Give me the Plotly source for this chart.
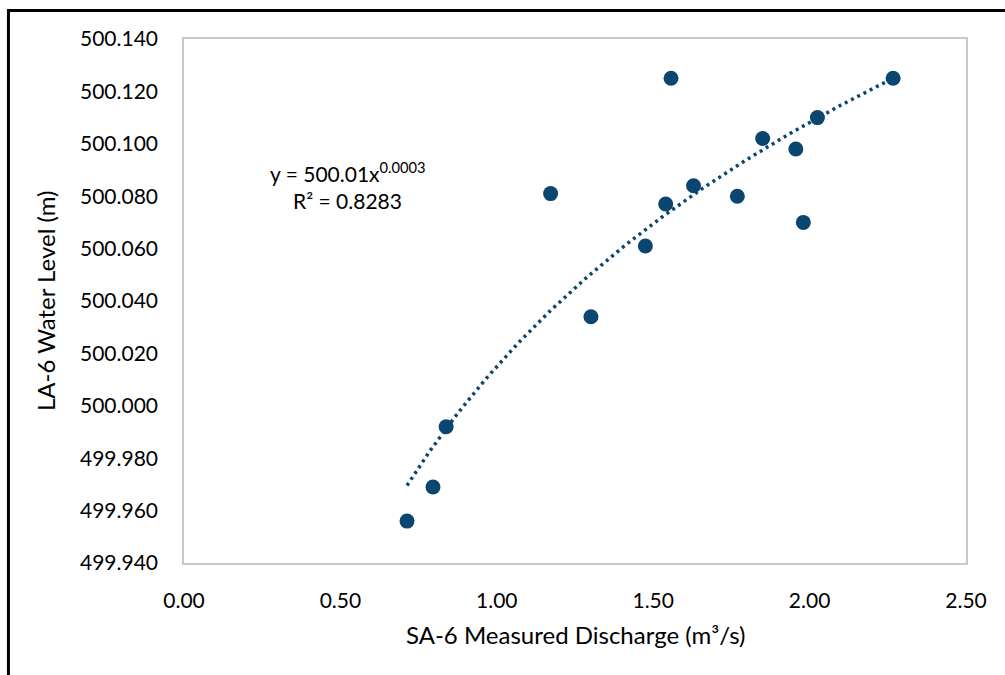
import numpy as np
import plotly.graph_objects as go

# SA-6 measured discharge (m3/s) and LA-6 water level (m)
discharge = [0.713, 0.796, 0.838, 1.172, 1.301, 1.475, 1.540, 1.557,
             1.629, 1.769, 1.850, 1.956, 1.980, 2.025, 2.267]
water_level = [499.956, 499.969, 499.992, 500.081, 500.034, 500.061, 500.077, 500.125,
               500.084, 500.080, 500.102, 500.098, 500.070, 500.110, 500.125]

x_ticks = [0.0, 0.5, 1.0, 1.5, 2.0, 2.5]
y_ticks = [499.94, 499.96, 499.98, 500.00, 500.02, 500.04, 500.06,
           500.08, 500.10, 500.12, 500.14]

equation_text = "y = 500.01x<sup>0.0003</sup>"
r2_text = "R² = 0.8283"

MARKER = "#0A4670"
FONT = "Lato"

# power-law trendline y = a * x^b, fitted in log-log space
xv = np.array(discharge)
yv = np.array(water_level)
b, ln_a = np.polyfit(np.log(xv), np.log(yv), 1)
xt = np.linspace(xv.min(), xv.max(), 200)
yt = np.exp(ln_a) * xt ** b

fig = go.Figure()
fig.add_trace(go.Scatter(
    x=xt, y=yt, mode="lines",
    line=dict(color=MARKER, width=3.5, dash="3px,4px"),
    hoverinfo="skip", showlegend=False,
))
fig.add_trace(go.Scatter(
    x=discharge, y=water_level, mode="markers",
    marker=dict(color=MARKER, size=15, line=dict(width=0)),
    showlegend=False,
))

axis_common = dict(
    showgrid=False, zeroline=False,
    showline=True, linecolor="#C8C8C8", linewidth=1.5, mirror=True,
    ticks="", tickfont=dict(family=FONT, size=21, color="#000000"),
)
fig.update_xaxes(range=[0, 2.5], tickvals=x_ticks,
                 ticktext=[f"{v:.2f}" for v in x_ticks],
                 ticklabelstandoff=18, **axis_common)
fig.update_yaxes(range=[499.94, 500.14], tickvals=y_ticks,
                 ticktext=[f"{v:.3f}" for v in y_ticks],
                 ticklabelstandoff=20, **axis_common)

fig.update_layout(
    width=1005, height=675,
    margin=dict(l=184, r=39, t=39, b=112),
    paper_bgcolor="white", plot_bgcolor="white",
    font=dict(family=FONT, color="#000000"),
    shapes=[dict(type="rect", xref="paper", yref="paper",
                 x0=-0.2245, x1=1.2, y0=-0.5, y1=1.0545,
                 line=dict(color="#000000", width=3), layer="below")],
    annotations=[
        dict(text="SA-6 Measured Discharge (m³/s)", xref="paper", yref="paper",
             x=0.5, y=-0.1374, xanchor="center", yanchor="middle",
             showarrow=False, font=dict(size=24)),
        dict(text="LA-6 Water Level (m)", xref="paper", yref="paper",
             x=-0.1777, y=0.50, xanchor="center", yanchor="middle",
             textangle=-90, showarrow=False, font=dict(size=24)),
        dict(text=equation_text, xref="paper", yref="paper",
             x=0.2097, y=0.7468, xanchor="center", yanchor="middle",
             showarrow=False, font=dict(size=21)),
        dict(text=r2_text, xref="paper", yref="paper",
             x=0.2097, y=0.6927, xanchor="center", yanchor="middle",
             showarrow=False, font=dict(size=21)),
    ],
)

fig.write_html("out.html")
